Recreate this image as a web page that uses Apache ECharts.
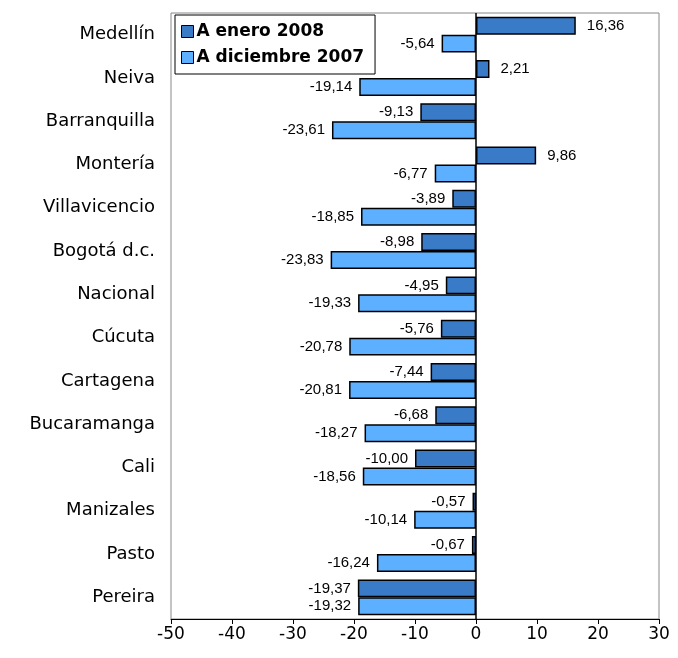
<!DOCTYPE html>
<html><head><meta charset="utf-8">
<script src="https://cdn.jsdelivr.net/npm/echarts@6/dist/echarts.min.js"></script>
<style>html,body{margin:0;padding:0;background:#fff}#c{width:678px;height:658px}</style>
</head><body><div id="c"></div>
<script>
const categories = ["Medellín","Neiva","Barranquilla","Montería","Villavicencio","Bogotá d.c.","Nacional","Cúcuta","Cartagena","Bucaramanga","Cali","Manizales","Pasto","Pereira"];
const enero2008 = [16.36, 2.21, -9.13, 9.86, -3.89, -8.98, -4.95, -5.76, -7.44, -6.68, -10.00, -0.57, -0.67, -19.37];
const diciembre2007 = [-5.64, -19.14, -23.61, -6.77, -18.85, -23.83, -19.33, -20.78, -20.81, -18.27, -18.56, -10.14, -16.24, -19.32];
const xTicks = [-50, -40, -30, -20, -10, 0, 10, 20, 30];

const wide = "'DejaVu Sans', Verdana, sans-serif";
const arial = "'Liberation Sans', Arial, sans-serif";
const fmt = p => p.value.toFixed(2).replace('.', ',');
function mkData(arr){
  return arr.map(v => ({value: v, label: {position: v >= 0 ? 'right' : 'left', distance: v >= 0 ? 11 : 7}}));
}
const chart = echarts.init(document.getElementById('c'));
chart.setOption({
  animation: false,
  backgroundColor: '#fff',
  grid: {left: 171, right: 19, top: 13, bottom: 39, show: true, borderColor: '#888', borderWidth: 1, containLabel: false},
  legend: {
    left: 175, top: 15, orient: 'vertical',
    backgroundColor: '#fff', borderColor: '#000', borderWidth: 1,
    padding: [7, 11, 7, 6], itemGap: 7, itemWidth: 12, itemHeight: 12,
    textStyle: {fontFamily: wide, fontWeight: 'bold', fontSize: 17, lineHeight: 19, color: '#000', padding: [0,0,0,-2]},
    data: [
      {name: 'A enero 2008', icon: 'rect', itemStyle: {borderColor: '#000', borderWidth: 1}},
      {name: 'A diciembre 2007', icon: 'rect', itemStyle: {borderColor: '#000', borderWidth: 1}}
    ]
  },
  xAxis: {
    type: 'value', min: xTicks[0], max: xTicks[xTicks.length-1], interval: 10,
    axisLine: {show: true, onZero: false, lineStyle: {color: '#000', width: 1}},
    axisTick: {show: true, length: 5, lineStyle: {color: '#000'}},
    axisLabel: {fontFamily: wide, fontSize: 17, color: '#000', margin: 7},
    splitLine: {show: false}
  },
  yAxis: {
    type: 'category', data: categories, inverse: true,
    axisLine: {show: false, onZero: false}, axisTick: {show: false},
    axisLabel: {fontFamily: wide, fontSize: 18, color: '#000', margin: 16}
  },
  series: [{
    name: 'A enero 2008', type: 'bar', data: mkData(enero2008),
    barGap: '0%', barCategoryGap: '17%',
    itemStyle: {color: '#3A7BC8', borderColor: '#000', borderWidth: 1.5},
    label: {show: true, formatter: fmt, fontFamily: arial, fontSize: 15, color: '#000'},
    markLine: {
      silent: true, symbol: 'none', label: {show: false},
      lineStyle: {color: '#000', width: 1.5, type: 'solid'},
      data: [{xAxis: 0}]
    },
    z: 2
  }, {
    name: 'A diciembre 2007', type: 'bar', data: mkData(diciembre2007),
    itemStyle: {color: '#5CB0FF', borderColor: '#000', borderWidth: 1.5},
    label: {show: true, formatter: fmt, fontFamily: arial, fontSize: 15, color: '#000'},
    z: 2
  }]
});
</script></body></html>
